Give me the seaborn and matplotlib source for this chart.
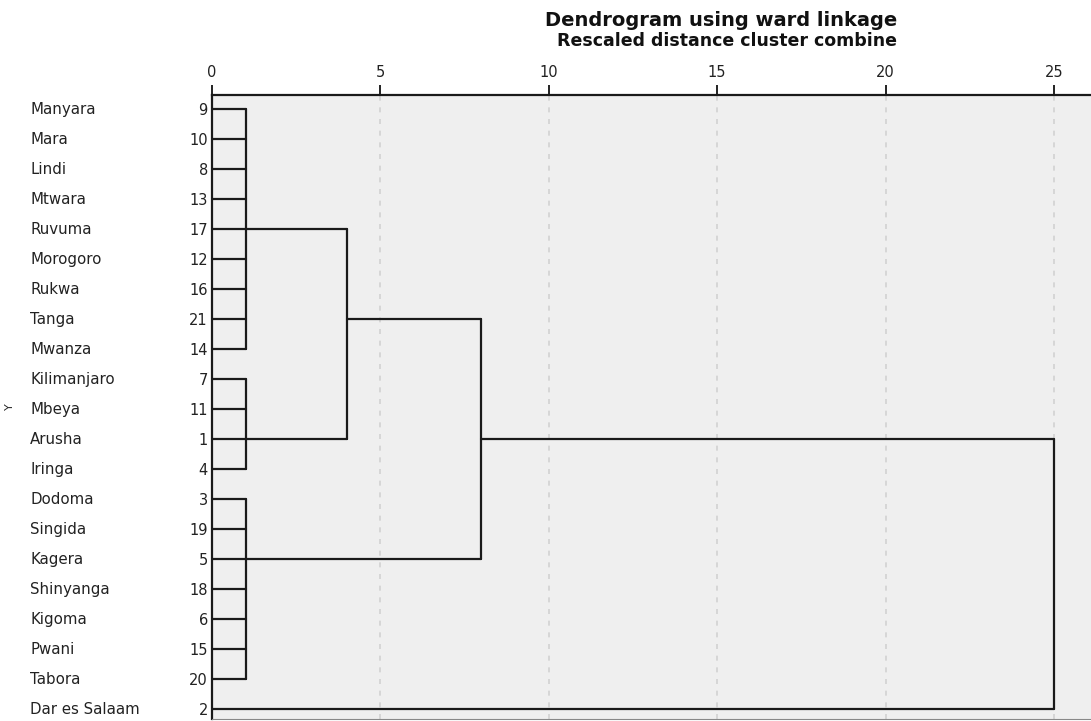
import numpy as np
import pandas as pd
import matplotlib.pyplot as plt
import matplotlib.transforms as mtransforms
import seaborn as sns

sns.set_style("white")
plt.rcParams['font.family'] = ['DejaVu Sans']

# Leaf order (top to bottom) and SPSS case numbers
regions = ["Manyara", "Mara", "Lindi", "Mtwara", "Ruvuma", "Morogoro", "Rukwa",
           "Tanga", "Mwanza", "Kilimanjaro", "Mbeya", "Arusha", "Iringa",
           "Dodoma", "Singida", "Kagera", "Shinyanga", "Kigoma", "Pwani",
           "Tabora", "Dar es Salaam"]
case_ids = [9, 10, 8, 13, 17, 12, 16, 21, 14, 7, 11, 1, 4, 3, 19, 5, 18, 6, 15, 20, 2]

# Agglomeration steps (rescaled distance 0-25)
merge_names = ["A", "B", "C", "AB", "ABC", "ALL"]
merge_children = [
    ["Manyara", "Mara", "Lindi", "Mtwara", "Ruvuma", "Morogoro", "Rukwa", "Tanga", "Mwanza"],
    ["Kilimanjaro", "Mbeya", "Arusha", "Iringa"],
    ["Dodoma", "Singida", "Kagera", "Shinyanga", "Kigoma", "Pwani", "Tabora"],
    ["A", "B"],
    ["AB", "C"],
    ["ABC", "Dar es Salaam"],
]
merge_heights = [1, 1, 1, 4, 8, 25]
merge_anchor = ["Ruvuma", "Arusha", "Kagera", "Tanga", "Arusha", None]

ticks = [0, 5, 10, 15, 20, 25]


def build_segments():
    row = {name: i for i, name in enumerate(regions)}
    height = {name: 0 for name in regions}
    anchor = dict(row)
    recs = []
    seg = 0
    for name, kids, h, anc in zip(merge_names, merge_children, merge_heights, merge_anchor):
        for k in kids:
            recs += [(seg, height[k], anchor[k]), (seg, h, anchor[k])]
            seg += 1
        ys = [anchor[k] for k in kids]
        recs += [(seg, h, min(ys)), (seg, h, max(ys))]
        seg += 1
        height[name] = h
        anchor[name] = row[anc] if anc else None
    return pd.DataFrame(recs, columns=["seg", "dist", "row"])


df = build_segments()

fig = plt.figure(figsize=(10.91, 7.21), dpi=100)
ax = fig.add_axes([212 / 1091, 2 / 721, 879 / 1091, 624 / 721])
ax.set_facecolor('#efefef')

ax.grid(axis='x', linestyle=(0, (3, 4)), color='#d2d2d2', linewidth=1.2)
sns.lineplot(data=df, x="dist", y="row", units="seg", estimator=None, sort=False,
             color='#1a1a1a', linewidth=1.6, ax=ax, legend=False)

ax.set_xlim(0, 26.1)
ax.set_ylim(20.33, -0.47)
ax.xaxis.tick_top()
ax.set_xticks(ticks)
ax.set_xticklabels([str(t) for t in ticks])
ax.tick_params(axis='x', direction='out', length=7, width=1.4, color='#222222',
               labelsize=10.5, labelcolor='#222222', pad=4)
ax.set_xlabel("")

ax.set_yticks(range(len(regions)))
ax.set_yticklabels([str(c) for c in case_ids])
ax.tick_params(axis='y', length=0, labelsize=10.5, labelcolor='#222222', pad=3)
ax.set_ylabel("Y", fontsize=8)
ax.yaxis.set_label_coords(-197 / 879, 0.5)

trans = mtransforms.blended_transform_factory(ax.transAxes, ax.transData)
for i, name in enumerate(regions):
    ax.text(-182 / 879, i, name, transform=trans, ha='left', va='center',
            fontsize=10.8, color='#222222')

for side in ['left', 'top']:
    ax.spines[side].set_color('#1a1a1a')
    ax.spines[side].set_linewidth(1.6)
ax.spines['bottom'].set_color('#888888')
ax.spines['right'].set_visible(False)

fig.text(897 / 1091, 1 - 26 / 721, "Dendrogram using ward linkage", ha='right',
         va='baseline', fontsize=14, fontweight='bold', color='#111111')
fig.text(897 / 1091, 1 - 46 / 721, "Rescaled distance cluster combine", ha='right',
         va='baseline', fontsize=12.5, fontweight='bold', color='#111111')

fig.savefig("out.png", dpi=100)
